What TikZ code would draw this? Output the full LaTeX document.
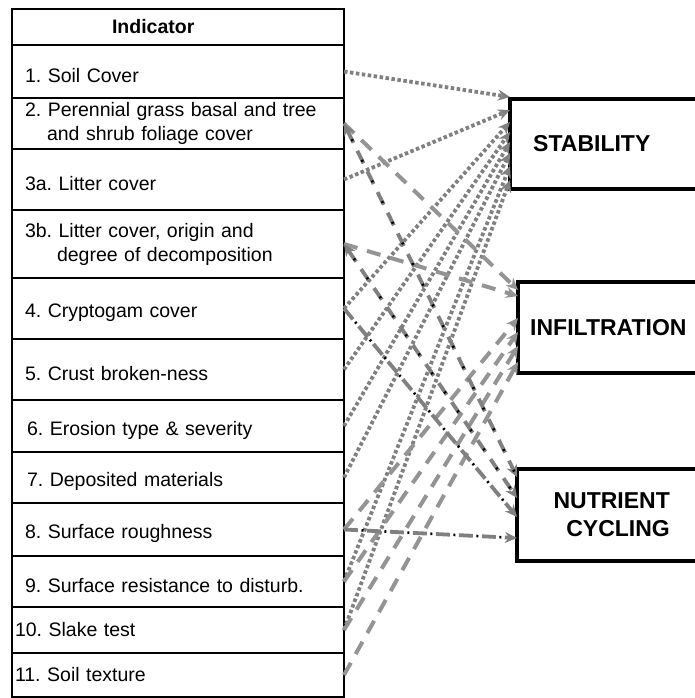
\documentclass[tikz,border=0pt]{standalone}
\usepackage{fontspec}
\setmainfont{Liberation Sans}
\usetikzlibrary{positioning,arrows.meta}

\tikzset{
  cell/.style={draw, line width=1.2pt, outer sep=0pt, inner xsep=13pt, inner ysep=2pt,
    minimum width=332pt, text width=306pt, align=left,
    font=\fontsize{19.5}{24}\selectfont\frenchspacing},
  lowcell/.style={cell, execute at begin node={\rule{0pt}{23pt}}},
  headcell/.style={cell, line width=2.8pt},
  outbox/.style={draw, line width=3.8pt, outer sep=0pt},
  outtext/.style={inner sep=0pt, font=\fontsize{23}{28}\selectfont\bfseries},
  stabline/.style={->, draw=black!50, line width=3.8pt, dash pattern=on 3.5pt off 2.5pt},
  infline/.style={->, draw=black!42, line width=4pt, dash pattern=on 14pt off 10pt},
  nutline/.style={->, draw=black!50, line width=3.8pt, dash pattern=on 14pt off 9pt,
    postaction={draw=black, arrows=-, line width=2.6pt,
      dash pattern=on 2pt off 21pt, dash phase=5.5pt}},
}

\begin{document}
\begin{tikzpicture}[x=1pt, y=-1pt, >={Stealth[length=12pt,width=11pt]}]
  \useasboundingbox (0,0) rectangle (694,698);

  % indicator table
  \node[headcell, minimum height=36pt, anchor=north west] (head) at (12,9)
        {\hspace*{87pt}\textbf{Indicator}};
  \node[lowcell, minimum height=53pt, below=0pt of head] (r1) {1. Soil Cover};
  \node[cell, minimum height=51pt, below=0pt of r1] (r2)
        {2. Perennial grass basal and tree\\\hspace*{22pt}and shrub foliage cover};
  \node[lowcell, minimum height=61pt, below=0pt of r2] (r3a) {3a. Litter cover};
  \node[cell, minimum height=68pt, below=0pt of r3a] (r3b)
        {3b. Litter cover, origin and\\\hspace*{32pt}degree of decomposition};
  \node[lowcell, minimum height=61pt, below=0pt of r3b] (r4) {4. Cryptogam cover};
  \node[lowcell, minimum height=61pt, below=0pt of r4] (r5) {5. Crust broken-ness};
  \node[lowcell, minimum height=52pt, below=0pt of r5] (r6)
        {\hspace*{2pt}6. Erosion type \& severity};
  \node[lowcell, minimum height=51pt, below=0pt of r6] (r7)
        {\hspace*{2pt}7. Deposited materials};
  \node[lowcell, minimum height=53pt, below=0pt of r7] (r8) {8. Surface roughness};
  \node[lowcell, minimum height=51pt, below=0pt of r8] (r9)
        {9. Surface resistance to disturb.};
  \node[cell, minimum height=46pt, below=0pt of r9] (r10) {\hspace*{-10pt}10. Slake test};
  \node[cell, minimum height=44pt, below=0pt of r10] (r11) {\hspace*{-10pt}11. Soil texture};

  % functions
  \node[outbox, minimum width=187pt, minimum height=90pt] (stab) at (603.5,144) {};
  \node[outbox, minimum width=179pt, minimum height=91pt] (infl) at (607.5,327.5) {};
  \node[outbox, minimum width=180pt, minimum height=92pt] (nutr) at (607,515) {};
  \node[outtext, anchor=west] (stabt) at ([xshift=23pt]stab.west) {STABILITY};
  \node[outtext, anchor=west] (inflt) at ([xshift=12pt]infl.west) {INFILTRATION};
  \node[outtext, anchor=east, align=right] (nutrt) at ([xshift=-27pt]nutr.east)
        {NUTRIENT\\CYCLING};

  % stability
  \path (r1.east)  edge[stabline] ([yshift=2pt]stab.north west)
        (r3a.east) edge[stabline] ([yshift=-11pt]stab.north west)
        (r4.east)  edge[stabline] ([yshift=-23pt]stab.north west)
        (r5.east)  edge[stabline] ([yshift=-33pt]stab.north west)
        (r6.east)  edge[stabline] ([yshift=-43pt]stab.north west)
        (r7.east)  edge[stabline] ([yshift=-54pt]stab.north west)
        (r9.east)  edge[stabline] ([yshift=-67pt]stab.north west)
        (r10.east) edge[stabline] ([yshift=-81pt]stab.north west);
  % infiltration
  \path (r2.east)  edge[infline] ([yshift=-8pt]infl.north west)
        (r3b.east) edge[infline] ([yshift=-14pt]infl.north west)
        (r8.east)  edge[infline] ([yshift=-36pt]infl.north west)
        (r9.east)  edge[infline] ([yshift=-50pt]infl.north west)
        (r10.east) edge[infline] ([yshift=-64pt]infl.north west)
        (r11.east) edge[infline] ([yshift=-80pt]infl.north west);
  % nutrient cycling
  \path (r2.east)  edge[nutline, <->] ([yshift=-8pt]nutr.north west)
        (r3b.east) edge[nutline, <->] ([yshift=-29pt]nutr.north west)
        (r4.east)  edge[nutline] ([yshift=-48pt]nutr.north west)
        (r8.east)  edge[nutline] ([yshift=-69pt]nutr.north west);
\end{tikzpicture}
\end{document}
